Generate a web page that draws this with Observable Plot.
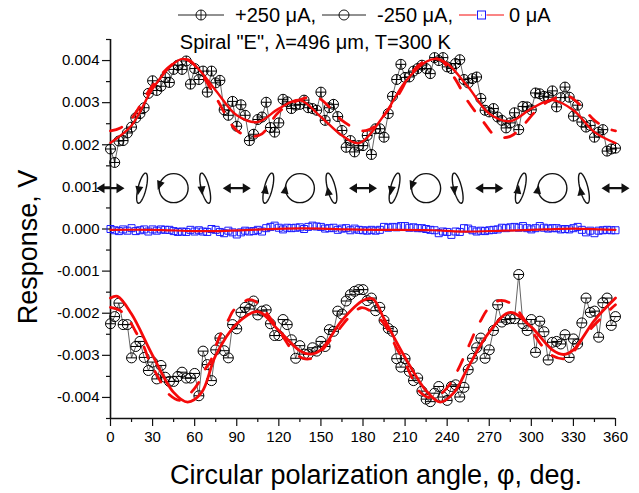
<!DOCTYPE html>
<html><head><meta charset="utf-8">
<script src="https://cdn.jsdelivr.net/npm/d3@7"></script>
<script src="https://cdn.jsdelivr.net/npm/@observablehq/plot@0.6"></script>
<style>
html,body{margin:0;padding:0;background:#fff}
#wrap{position:relative;width:639px;height:493px;font-family:"Liberation Sans",Arial,sans-serif;overflow:hidden}
#legend{position:relative;height:28px}
#legend span{position:absolute;top:3px;font-size:20px;line-height:24px;white-space:nowrap;color:#000}
#legend svg{position:absolute;top:6px;overflow:visible}
#chart{position:absolute;top:28px;left:0}
svg{display:block}
</style></head><body>
<div id="wrap"><div id="legend"></div><div id="chart"></div></div>
<script>
const angles = d3.range(0, 361, 3);
const plus250 = [1.90,1.58,2.09,2.10,2.28,2.42,2.64,2.74,2.88,3.22,3.52,3.29,3.39,3.60,3.48,3.79,3.89,3.79,3.99,3.44,3.81,3.55,3.75,3.25,3.75,3.47,3.53,2.83,2.70,3.03,2.44,2.95,2.70,2.10,2.25,2.60,2.66,3.01,2.41,2.30,2.52,3.08,3.02,2.86,2.94,2.96,3.06,2.88,2.86,2.82,3.25,2.58,2.88,2.96,2.67,2.34,1.94,2.10,1.83,1.98,1.98,2.22,1.77,2.38,2.38,2.18,2.74,3.15,3.55,3.91,3.60,3.61,3.75,3.81,3.89,3.81,3.69,4.07,4.00,4.07,3.85,3.81,3.93,4.02,3.55,3.47,3.57,3.61,3.10,2.82,2.78,2.86,2.66,2.58,2.40,2.52,2.76,2.36,2.91,2.90,2.83,3.23,3.21,3.15,3.13,3.28,2.90,3.12,3.37,3.13,2.68,2.94,2.54,2.42,2.46,2.18,2.30,2.36,1.85,1.90,1.92];
const minus250 = [-2.25,-2.08,-1.76,-2.27,-2.27,-3.06,-2.79,-2.67,-3.05,-3.36,-3.16,-3.56,-3.24,-3.52,-3.62,-3.62,-3.50,-3.40,-3.54,-3.54,-3.43,-3.96,-2.90,-3.22,-3.60,-2.87,-2.59,-2.89,-3.06,-2.27,-2.37,-1.98,-1.86,-1.90,-1.71,-2.04,-1.95,-1.92,-2.25,-2.53,-2.53,-2.15,-2.27,-2.63,-3.07,-2.77,-2.97,-2.97,-2.82,-2.90,-2.67,-2.79,-2.39,-2.43,-1.95,-2.02,-1.71,-1.56,-1.48,-1.44,-1.44,-1.70,-1.64,-1.94,-1.86,-2.17,-2.36,-2.43,-3.08,-3.28,-3.08,-3.38,-3.60,-3.54,-3.85,-4.04,-4.10,-3.90,-3.74,-3.99,-4.07,-3.74,-3.70,-3.99,-3.76,-3.34,-3.07,-2.82,-2.59,-3.07,-2.87,-2.41,-1.80,-2.21,-2.15,-2.13,-2.13,-1.08,-2.25,-2.41,-2.15,-2.93,-2.19,-2.44,-3.11,-2.69,-2.67,-2.73,-2.51,-3.05,-2.61,-2.73,-2.23,-1.64,-1.98,-1.95,-2.57,-1.75,-1.64,-2.29,-2.08];
const zero = [0,-.03,-.05,-.01,-.04,.02,-.05,-.03,-.01,-.06,-.01,-.04,-.01,-.02,-.02,-.05,-.07,-.06,-.07,-.02,-.06,-.03,-.06,-.07,0,-.02,-.07,-.10,-.04,-.08,-.13,-.08,-.04,-.06,-.05,-.02,-.06,.02,.05,.08,.03,-.01,.03,.02,.03,.04,0,.05,.08,.06,.05,.01,.02,.03,-.02,.01,.02,-.03,.01,-.02,-.03,-.04,-.02,-.04,-.02,.05,.03,.05,.04,.07,.07,.03,.04,.02,.02,0,-.02,-.03,-.10,-.06,-.07,-.14,-.06,-.07,.02,.01,-.03,-.06,-.04,-.05,-.03,-.02,-.01,.03,.02,.04,.05,.03,.07,.02,-.01,.02,.07,.03,.01,.02,.02,-.01,0,-.01,.02,.05,-.02,-.08,-.04,-.10,-.04,-.03,-.02,-.03,-.03];

const fitUpDeg = [0,15,30,45,52,60,75,90,105,120,135,150,165,177,195,210,225,232,240,255,270,285,300,315,330,345,360];
const fitUp = [2.05,2.46,3.33,3.93,4.04,3.89,3.29,2.70,2.54,2.86,3.06,2.66,2.22,2.04,2.70,3.49,3.97,4.04,3.93,3.37,2.74,2.56,2.86,3.06,2.82,2.30,2.04];
const fitDownDeg = [0,5,15,30,45,55,65,75,90,105,120,135,143,150,165,180,187,195,210,225,235,245,255,270,285,300,315,323,330,345,360];
const fitDown = [-1.64,-1.60,-2.02,-3.00,-3.88,-4.11,-3.88,-3.00,-2.25,-1.96,-2.41,-2.89,-2.97,-2.87,-2.17,-1.70,-1.66,-2.13,-3.05,-3.84,-4.11,-3.88,-3.28,-2.45,-1.98,-2.33,-2.87,-2.98,-2.87,-2.17,-1.64];
const dashUpDeg = [0,7,15,30,45,55,65,75,90,100,108,120,135,147,157,165,180,190,195,205,215,225,235,245,255,265,275,285,293,305,315,325,335,345,355,360];
const dashUp = [2.33,2.40,2.62,3.41,3.93,4.02,3.67,3.13,2.34,2.20,2.26,2.78,3.07,3.13,2.86,2.58,2.33,2.48,2.70,3.17,3.73,4.00,4.02,3.60,3.02,2.58,2.20,2.20,2.42,2.86,3.08,3.17,2.94,2.58,2.38,2.33];
const dashDownDeg = [0,7,14,18.5,24,27,32,36,41.5,50,57.5,63,67.6,71,75.6,79,84,88,98.6,105,124,128,137,145,160,170,178.7,185,194,198,203,207,212,215,220,228,236,242,247.6,255.5,260,264,269,277,286,297,308,315,324,329,337,354,360];
const dashDown = [-1.86,-1.94,-2.21,-2.47,-2.81,-3.08,-3.40,-3.64,-3.92,-4.07,-3.88,-3.64,-3.32,-3.16,-2.73,-2.47,-2.16,-1.92,-1.68,-1.76,-2.61,-2.81,-3.07,-3.05,-2.50,-2.10,-1.87,-1.94,-2.21,-2.41,-2.77,-3.01,-3.32,-3.54,-3.85,-4.01,-3.90,-3.68,-3.35,-2.77,-2.43,-2.17,-1.90,-1.70,-1.78,-2.25,-2.79,-3.01,-3.08,-2.97,-2.57,-1.98,-1.80];
const zeroFitDeg = [0,30,60,75,100,125,150,170,190,230,250,280,310,330,350,360];
const zeroFit = [-.02,-.02,-.05,-.05,-.02,.01,.01,-.01,-.02,-.03,-.06,-.04,-.01,.01,-.01,-.02];

const xTicks = d3.range(0, 361, 30);
const xMinor = d3.range(15, 361, 30);
const yTicks = [-4,-3,-2,-1,0,1,2,3,4];
const yMinor = [-4.5,-3.5,-2.5,-1.5,-0.5,0.5,1.5,2.5,3.5,4.5];

const linearIcons = [0,90,180,270,360];
const ellipseTiltRightDown = [22.5,202.5];
const circleDown = [45,225];
const ellipseTiltLeftDown = [67.5,247.5];
const ellipseTiltRightUp = [112.5,292.5];
const circleUp = [135,315];
const ellipseTiltLeftUp = [157.5,337.5];
const iconLevel = 0.97;

const INK = "#111", RED = "#f50a0a", BLUE = "#1a1aff";

function ringPath(ctx, r){ ctx.moveTo(r,0); ctx.arc(0,0,r,0,2*Math.PI); }
const plusSym = {draw(c){ ringPath(c,5); c.moveTo(-5,0); c.lineTo(5,0); c.moveTo(0,-5); c.lineTo(0,5); }};
const minusSym = {draw(c){ ringPath(c,5); c.moveTo(-5,0); c.lineTo(5,0); }};
const squareSym = {draw(c){ c.moveTo(-3.5,-3.5); c.lineTo(3.5,-3.5); c.lineTo(3.5,3.5); c.lineTo(-3.5,3.5); c.closePath(); }};
const dotSym = {draw(c){ c.moveTo(.4,0); c.arc(0,0,.4,0,2*Math.PI); }};
function ellipseSym(tiltDeg){
  const t = tiltDeg*Math.PI/180, a = 15.5, b = 4;
  return {draw(c){
    for (let k = 0; k <= 72; k++){
      const th = k/72*2*Math.PI;
      const x = b*Math.cos(th)*Math.cos(t) + a*Math.sin(th)*Math.sin(t);
      const y = b*Math.cos(th)*Math.sin(t) - a*Math.sin(th)*Math.cos(t);
      k ? c.lineTo(x,y) : c.moveTo(x,y);
    }
    c.closePath();
  }};
}
const circleSym = {draw(c){ ringPath(c,14.5); }};
function headSym(cx, cy, dirDeg){
  const d = dirDeg*Math.PI/180, ux = Math.cos(d), uy = Math.sin(d), L = 4.5, W = 4;
  return {draw(c){
    c.moveTo(cx+ux*L, cy+uy*L);
    c.lineTo(cx-ux*L-uy*W, cy-uy*L+ux*W);
    c.lineTo(cx-ux*L+uy*W, cy-uy*L-ux*W);
    c.closePath();
  }};
}
const doubleArrowSym = {draw(c){
  const w = 14, h = 8, hw = 5, s = 1.2;
  c.moveTo(-w,0); c.lineTo(-w+h,-hw); c.lineTo(-w+h,-s); c.lineTo(w-h,-s); c.lineTo(w-h,-hw);
  c.lineTo(w,0); c.lineTo(w-h,hw); c.lineTo(w-h,s); c.lineTo(-w+h,s); c.lineTo(-w+h,hw); c.closePath();
}};

const outline = (xs, symbol) => Plot.dot(xs, {x:d=>d, y:()=>iconLevel, symbol, stroke:INK, strokeWidth:1.4, fill:"none"});
const solid = (xs, symbol) => Plot.dot(xs, {x:d=>d, y:()=>iconLevel, symbol, fill:INK, stroke:"none"});
const zip = (xs, ys) => xs.map((x,i)=>({x, y:ys[i]}));
const fmt = d => (d/1000).toFixed(3);

const chart = Plot.plot({
  width: 639, height: 465,
  marginLeft: 110, marginRight: 24, marginTop: 11, marginBottom: 75,
  style: {background:"#fff", fontFamily:'"Liberation Sans",Arial,sans-serif', overflow:"visible"},
  x: {domain:[0,360]},
  y: {domain:[-4.5,4.5]},
  marks: [
    Plot.axisX({ticks:xMinor, tickSize:4, tickFormat:()=>"", label:null, stroke:INK, strokeWidth:1.2}),
    Plot.axisX({ticks:xTicks, tickSize:8, tickPadding:5, tickFormat:d=>d, label:null, fontSize:15, stroke:INK, strokeWidth:1.2, fill:"#000"}),
    Plot.axisY({ticks:yMinor, tickSize:4, tickFormat:()=>"", label:null, stroke:INK, strokeWidth:1.2}),
    Plot.axisY({ticks:yTicks, tickSize:8, tickPadding:3, tickFormat:fmt, label:null, fontSize:15, stroke:INK, strokeWidth:1.2, fill:"#000"}),
    Plot.ruleX([0], {stroke:INK, strokeWidth:1.6}),
    Plot.ruleY([-4.5], {stroke:INK, strokeWidth:1.6}),

    Plot.line(zip(angles,plus250), {x:"x", y:"y", stroke:"#222", strokeWidth:.7}),
    Plot.dot(zip(angles,plus250), {x:"x", y:"y", symbol:plusSym, stroke:"#000", strokeWidth:1, fill:"none"}),
    Plot.line(zip(angles,minus250), {x:"x", y:"y", stroke:"#222", strokeWidth:.7}),
    Plot.dot(zip(angles,minus250), {x:"x", y:"y", symbol:minusSym, stroke:"#000", strokeWidth:1, fill:"none"}),

    Plot.dot(zip(angles,zero), {x:"x", y:"y", symbol:squareSym, stroke:BLUE, strokeWidth:1, fill:"none"}),
    Plot.dot(zip(angles,zero), {x:"x", y:"y", symbol:dotSym, fill:BLUE, stroke:"none"}),
    Plot.line(zip(zeroFitDeg,zeroFit), {x:"x", y:"y", stroke:RED, strokeWidth:2.2, curve:"catmull-rom"}),

    Plot.line(zip(dashUpDeg,dashUp), {x:"x", y:"y", stroke:RED, strokeWidth:2.8, strokeDasharray:"12,15", curve:"catmull-rom"}),
    Plot.line(zip(dashDownDeg,dashDown), {x:"x", y:"y", stroke:RED, strokeWidth:2.8, strokeDasharray:"12,15", curve:"catmull-rom"}),
    Plot.line(zip(fitUpDeg,fitUp), {x:"x", y:"y", stroke:RED, strokeWidth:2.4, curve:"catmull-rom"}),
    Plot.line(zip(fitDownDeg,fitDown), {x:"x", y:"y", stroke:RED, strokeWidth:2.8, curve:"catmull-rom"}),

    solid(linearIcons, doubleArrowSym),
    outline(ellipseTiltRightDown, ellipseSym(14)), solid(ellipseTiltRightDown, headSym(-3.5,2.7,100)),
    outline(circleDown, circleSym), solid(circleDown, headSym(-14.3,-2.5,110)),
    outline(ellipseTiltLeftDown, ellipseSym(-14)), solid(ellipseTiltLeftDown, headSym(-3.3,2.7,85)),
    outline(ellipseTiltRightUp, ellipseSym(14)), solid(ellipseTiltRightUp, headSym(-2.7,1,-80)),
    outline(circleUp, circleSym), solid(circleUp, headSym(-14.5,1,-80)),
    outline(ellipseTiltLeftUp, ellipseSym(-14)), solid(ellipseTiltLeftUp, headSym(-3.3,2.7,-100)),

    Plot.text(['Spiral "E", λ=496 μm, T=300 K'], {x:()=>146, y:()=>4.43, text:d=>d, fontSize:20, fill:"#000"}),
    Plot.text(["Response, V"], {frameAnchor:"left", textAnchor:"middle", text:d=>d, rotate:-90, dx:-82, dy:18, fontSize:27, fill:"#000"}),
    Plot.text(["Circular polarization angle, φ, deg."], {frameAnchor:"bottom", text:d=>d, dx:13, dy:57, lineAnchor:"middle", fontSize:27, fill:"#000"})
  ]
});
document.getElementById("chart").append(chart);

const legendEntries = [
  {x1:178,x2:224,line:"#222",kind:"plus",tx:235,text:"+250 μA,"},
  {x1:322,x2:366,line:"#222",kind:"minus",tx:377,text:"-250 μA,"},
  {x1:459,x2:504,line:RED,kind:"square",tx:509,text:"0 μA"}
];
const lg = d3.select("#legend");
for (const e of legendEntries){
  const mid = (e.x1+e.x2)/2 - e.x1;
  const s = lg.append("svg").style("left",e.x1+"px").attr("width",e.x2-e.x1).attr("height",18);
  s.append("line").attr("x1",0).attr("x2",mid-5).attr("y1",9).attr("y2",9).attr("stroke",e.line).attr("stroke-width",1);
  s.append("line").attr("x1",mid+5).attr("x2",e.x2-e.x1).attr("y1",9).attr("y2",9).attr("stroke",e.line).attr("stroke-width",1);
  const g = s.append("g").attr("transform",`translate(${mid},9)`);
  if (e.kind==="square"){
    g.append("rect").attr("x",-4).attr("y",-4).attr("width",8).attr("height",8).attr("fill","#fff").attr("stroke",BLUE).attr("stroke-width",1);
    g.append("circle").attr("r",.5).attr("fill",BLUE);
  } else {
    g.append("circle").attr("r",5).attr("fill","#fff").attr("stroke","#000").attr("stroke-width",.9);
    g.append("line").attr("x1",-5).attr("x2",5).attr("stroke","#000").attr("stroke-width",.9);
    if (e.kind==="plus") g.append("line").attr("y1",-5).attr("y2",5).attr("stroke","#000").attr("stroke-width",.9);
  }
  lg.append("span").style("left",e.tx+"px").text(e.text);
}
</script>
</body></html>
